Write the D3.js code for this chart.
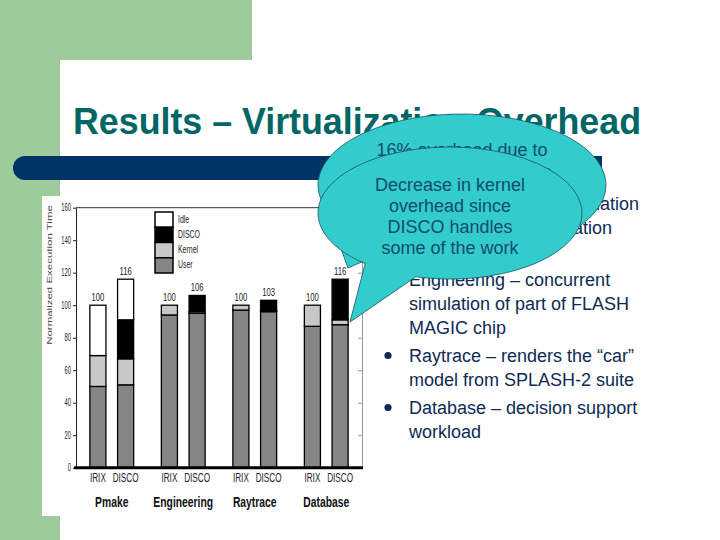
<!DOCTYPE html>
<html>
<head>
<meta charset="utf-8">
<script src="https://cdn.jsdelivr.net/npm/d3@7"></script>
<style>
  body { margin: 0; background: #fff; }
  svg { display: block; }
</style>
</head>
<body>
<div id="slide"></div>
<script>
// chart values (IRIX then DISCO for each workload)
const groups = ["Pmake", "Engineering", "Raytrace", "Database"];
const systems = ["IRIX", "DISCO"];
const keys = ["User", "Kernel", "DISCO", "Idle"];
const userTime   = [50, 51, 94, 95, 97, 96, 87, 88];
const kernelTime = [19, 16, 6, 1, 3, 0.5, 13, 3];
const discoTime  = [0, 24, 0, 10, 0, 6.5, 0, 25];
const idleTime   = [31, 25, 0, 0, 0, 0, 0, 0];
const yTicks = [0, 20, 40, 60, 80, 100, 120, 140, 160];
const legendKeys = ["Idle", "DISCO", "Kernel", "User"];
const yLabel = "Normalized Execution Time";

// slide texts
const titleText = "Results – Virtualization Overhead";
const bulletParas = [
    ["Pmake – parallel compilation", "of GNU chess application", "using gcc"],
    ["Engineering – concurrent", "simulation of part of FLASH", "MAGIC chip"],
    ["Raytrace – renders the “car”", "model from SPLASH-2 suite"],
    ["Database – decision support", "workload"]
];
const backNote = ["16% overhead due to", "the high TLB miss rate"];
const frontNote = ["Decrease in kernel", "overhead since", "DISCO handles", "some of the work"];

const W = 720, H = 540;
const sans = "'Liberation Sans', Arial, sans-serif";

// the chart picture is squeezed sideways, so its texts are too
function squeeze(sel, s) {
    sel.each(function () {
        const t = d3.select(this);
        const x = +t.attr("x") || 0, y = +t.attr("y") || 0;
        t.attr("x", null).attr("y", null)
            .attr("transform", `translate(${x},${y}) scale(${s},1)`);
    });
}

const svg = d3.select("#slide").append("svg")
    .attr("width", W)
    .attr("height", H)
    .attr("viewBox", [0, 0, W, H]);

// slide background
svg.append("rect").attr("width", W).attr("height", H).attr("fill", "#fff");
svg.append("rect").attr("width", 252).attr("height", 60).attr("fill", "#9ccc9a");
svg.append("rect").attr("width", 60).attr("height", H).attr("fill", "#9ccc9a");
svg.append("path")
    .attr("d", `M60,${H}V80A20,20 0 0 1 80,60H${W}V${H}Z`)
    .attr("fill", "#fff");

// navy rule under the title
svg.append("path")
    .attr("d", "M25,156H602V180H25A12,12 0 0 1 25,156Z")
    .attr("fill", "#003366");

svg.append("text")
    .attr("x", 73)
    .attr("y", 134)
    .attr("font-family", sans)
    .attr("font-weight", "bold")
    .attr("font-size", 36)
    .attr("textLength", 568)
    .attr("lengthAdjust", "spacingAndGlyphs")
    .attr("fill", "#006666")
    .text(titleText);

// bullet list on the right
const lineH = 24, paraGap = 4;
let ly = 209.5;
const bullets = svg.append("g")
    .attr("font-family", sans)
    .attr("font-size", 18)
    .attr("fill", "#0d2b55");
bulletParas.forEach(para => {
    bullets.append("circle").attr("cx", 388).attr("cy", ly - 6).attr("r", 3.6);
    para.forEach(line => {
        bullets.append("text").attr("x", 409).attr("y", ly).text(line);
        ly += lineH;
    });
    ly += paraGap;
});

// ---- the chart picture ----
const chart = svg.append("g").attr("font-family", sans);
chart.append("rect")
    .attr("x", 42).attr("y", 196)
    .attr("width", 338).attr("height", 320)
    .attr("fill", "#fff");

const x0 = d3.scaleBand().domain(groups).range([76, 362]);
const x1 = d3.scaleBand().domain(systems)
    .range([0, x0.bandwidth()])
    .paddingInner(0.42)
    .paddingOuter(0.5);
const y = d3.scaleLinear().domain([0, 160]).range([467.7, 207.7]);
const color = d3.scaleOrdinal()
    .domain(keys)
    .range(["#858585", "#c8c8c8", "#000000", "#ffffff"]);

const bars = groups.flatMap((g, gi) => systems.map((s, si) => {
    const i = gi * systems.length + si;
    return { group: g, system: s, User: userTime[i], Kernel: kernelTime[i], DISCO: discoTime[i], Idle: idleTime[i] };
}));
const series = d3.stack().keys(keys)(bars);
const barX = d => x0(d.group) + x1(d.system);
const total = d => d3.sum(keys, k => d[k]);

// right axis and top frame
chart.append("g")
    .attr("transform", "translate(362,0)")
    .call(d3.axisLeft(y).tickValues(yTicks).tickSize(4).tickSizeOuter(0).tickFormat(""))
    .call(g => g.selectAll("path,line").attr("stroke", "#999"));
chart.append("line")
    .attr("x1", 76).attr("x2", 362)
    .attr("y1", y(160)).attr("y2", y(160))
    .attr("stroke", "#333");

// left axis
chart.append("g")
    .attr("transform", "translate(76,0)")
    .call(d3.axisLeft(y).tickValues(yTicks).tickSize(3).tickSizeOuter(0).tickPadding(2))
    .call(g => g.selectAll("path,line").attr("stroke", "#222"))
    .call(g => g.selectAll("text")
        .attr("font-family", sans)
        .attr("font-size", 10)
        .attr("fill", "#222")
        .call(squeeze, 0.58));

chart.append("text")
    .attr("transform", "translate(52,275) rotate(-90) scale(1,0.62)")
    .attr("text-anchor", "middle")
    .attr("font-size", 11.5)
    .attr("fill", "#444")
    .text(yLabel);

// stacked bars
chart.append("g")
    .selectAll("g")
    .data(series)
    .join("g")
    .attr("fill", d => color(d.key))
    .selectAll("rect")
    .data(d => d.filter(s => s[1] > s[0]))
    .join("rect")
    .attr("x", d => barX(d.data))
    .attr("y", d => y(d[1]))
    .attr("width", x1.bandwidth())
    .attr("height", d => y(d[0]) - y(d[1]))
    .attr("stroke", "#000")
    .attr("stroke-width", 1.3);

// totals above the bars
chart.append("g")
    .attr("font-size", 11)
    .attr("fill", "#222")
    .attr("text-anchor", "middle")
    .selectAll("text")
    .data(bars)
    .join("text")
    .attr("x", d => barX(d) + x1.bandwidth() / 2)
    .attr("y", d => y(total(d)) - 4)
    .text(d => Math.round(total(d)))
    .call(squeeze, 0.7);

// thick base line
chart.append("line")
    .attr("x1", 74).attr("x2", 363)
    .attr("y1", y(0)).attr("y2", y(0))
    .attr("stroke", "#000")
    .attr("stroke-width", 3);

// category labels
chart.append("g")
    .attr("font-size", 12)
    .attr("fill", "#222")
    .attr("text-anchor", "middle")
    .selectAll("text")
    .data(bars)
    .join("text")
    .attr("x", d => barX(d) + x1.bandwidth() / 2)
    .attr("y", 482)
    .text(d => d.system)
    .call(squeeze, 0.68);

chart.append("g")
    .attr("font-size", 15)
    .attr("font-weight", "bold")
    .attr("fill", "#111")
    .attr("text-anchor", "middle")
    .selectAll("text")
    .data(groups)
    .join("text")
    .attr("x", d => x0(d) + x0.bandwidth() / 2)
    .attr("y", 507)
    .text(d => d)
    .call(squeeze, 0.69);

// legend
const ly0 = d3.scaleBand().domain(legendKeys).range([212, 273]);
const legend = chart.append("g");
legend.selectAll("rect")
    .data(legendKeys)
    .join("rect")
    .attr("x", 155)
    .attr("y", d => ly0(d))
    .attr("width", 18)
    .attr("height", ly0.bandwidth())
    .attr("fill", d => color(d))
    .attr("stroke", "#000")
    .attr("stroke-width", 1.5);
legend.selectAll("text")
    .data(legendKeys)
    .join("text")
    .attr("x", 178)
    .attr("y", d => ly0(d) + ly0.bandwidth() / 2 + 3)
    .attr("font-size", 11)
    .attr("fill", "#222")
    .text(d => d)
    .call(squeeze, 0.63);

// ---- callouts ----
function wedgeCallout(cx, cy, rx, ry, a1, a2, tip) {
    const p = t => [cx + rx * Math.cos(t * Math.PI / 180), cy + ry * Math.sin(t * Math.PI / 180)];
    return `M${p(a1)}A${rx},${ry} 0 1 1 ${p(a2)}L${tip}Z`;
}

function drawCallout(shape, lines, cx, y0, step) {
    const g = svg.append("g");
    g.append("path")
        .attr("d", shape)
        .attr("fill", "#33cccc")
        .attr("stroke", "#1d5060")
        .attr("stroke-width", 0.8);
    g.append("g")
        .attr("font-family", sans)
        .attr("font-size", 18)
        .attr("fill", "#134b6b")
        .attr("text-anchor", "middle")
        .selectAll("text")
        .data(lines)
        .join("text")
        .attr("x", cx)
        .attr("y", (d, i) => y0 + i * step)
        .text(d => d);
}

drawCallout(wedgeCallout(462, 185, 144, 71, 160, 118, [348, 268]), backNote, 462, 156, 22);
drawCallout(wedgeCallout(450, 213, 132, 66, 130, 105, [350, 322]), frontNote, 450, 190.5, 21.3);
</script>
</body>
</html>
